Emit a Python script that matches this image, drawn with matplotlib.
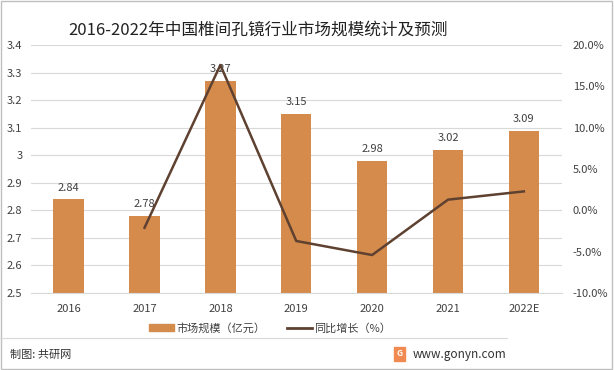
import matplotlib
matplotlib.use('Agg')
import matplotlib.pyplot as plt
from matplotlib.patches import Rectangle
from matplotlib.lines import Line2D
from matplotlib.ticker import FuncFormatter

plt.rcParams['font.family'] = ['Noto Sans CJK SC', 'DejaVu Sans']

# data
years = ['2016', '2017', '2018', '2019', '2020', '2021', '2022E']
market_size = [2.84, 2.78, 3.27, 3.15, 2.98, 3.02, 3.09]
growth_years = ['2017', '2018', '2019', '2020', '2021', '2022E']
growth_pct = [-2.1, 17.6, -3.7, -5.4, 1.3, 2.3]

BAR_COLOR = '#D58B4C'
LINE_COLOR = '#5E4130'
TEXT_COLOR = '#404040'

fig = plt.figure(figsize=(6.14, 3.70), dpi=100)
fig.patch.set_facecolor('white')

ax = fig.add_axes([0.050, 0.208, 0.865, 0.670])
x = list(range(len(years)))
ax.bar(x, market_size, width=0.4, color=BAR_COLOR, zorder=2)
for xi, v in zip(x, market_size):
    ax.text(xi, v + 0.025, f'{v:g}', ha='center', va='bottom',
            fontsize=8, color=TEXT_COLOR, zorder=5)

ax.set_ylim(2.5, 3.4)
ax.set_xlim(-0.5, len(years) - 0.5)
ax.set_yticks([2.5 + 0.1 * i for i in range(10)])
ax.yaxis.set_major_formatter(FuncFormatter(lambda v, p: '3' if abs(v - 3) < 1e-6 else f'{v:.1f}'))
ax.set_xticks(x)
ax.set_xticklabels(years)
ax.grid(axis='y', color='#D9D9D9', linewidth=0.8, zorder=0)
ax.tick_params(axis='both', length=0, labelsize=8, colors=TEXT_COLOR, pad=6)
ax.tick_params(axis='x', pad=8)
for s in ax.spines.values():
    s.set_visible(False)
ax.spines['bottom'].set_visible(True)
ax.spines['bottom'].set_color('#D9D9D9')

ax2 = ax.twinx()
gx = [years.index(y) for y in growth_years]
ax2.plot(gx, growth_pct, color=LINE_COLOR, linewidth=1.8, zorder=4)
ax2.set_ylim(-10, 20)
ax2.set_yticks(range(-10, 21, 5))
ax2.yaxis.set_major_formatter(FuncFormatter(lambda v, p: f'{v:.1f}%'))
ax2.tick_params(axis='y', length=0, labelsize=8, colors=TEXT_COLOR, pad=8)
for s in ax2.spines.values():
    s.set_visible(False)

# title
fig.text(0.42, 0.918, '2016-2022年中国椎间孔镜行业市场规模统计及预测',
         ha='center', va='center', fontsize=12, color='#222222')

# legend
handles = [Rectangle((0, 0), 1, 1, color=BAR_COLOR),
           Line2D([0], [0], color=LINE_COLOR, linewidth=2)]
fig.legend(handles, ['市场规模（亿元）', '同比增长（%）'], loc='center',
           bbox_to_anchor=(0.44, 0.113), ncol=2, frameon=False,
           fontsize=8, handlelength=2.2, handleheight=0.6,
           handletextpad=0.2, columnspacing=2.0, labelcolor=TEXT_COLOR)

# footer
fig.add_artist(Line2D([0.0, 0.826], [0.087, 0.087], color='#D9D9D9',
                      linewidth=0.8, transform=fig.transFigure))
fig.text(0.016, 0.04, '制图: 共研网', ha='left', va='center',
         fontsize=8, color='#333333')
fig.text(0.672, 0.043, 'www.gonyn.com', ha='left', va='center',
         fontsize=8.5, color='#333333')
fig.add_artist(Rectangle((0.641, 0.025), 0.019, 0.038, color='#F08A50',
                         transform=fig.transFigure))
fig.text(0.6505, 0.044, 'G', ha='center', va='center', fontsize=6,
         color='white', fontweight='bold')

# outer border
fig.add_artist(Rectangle((0.002, 0.003), 0.995, 0.993, fill=False,
                         edgecolor='#BFBFBF', linewidth=1,
                         transform=fig.transFigure))

fig.savefig('out.png', dpi=100, facecolor='white')
